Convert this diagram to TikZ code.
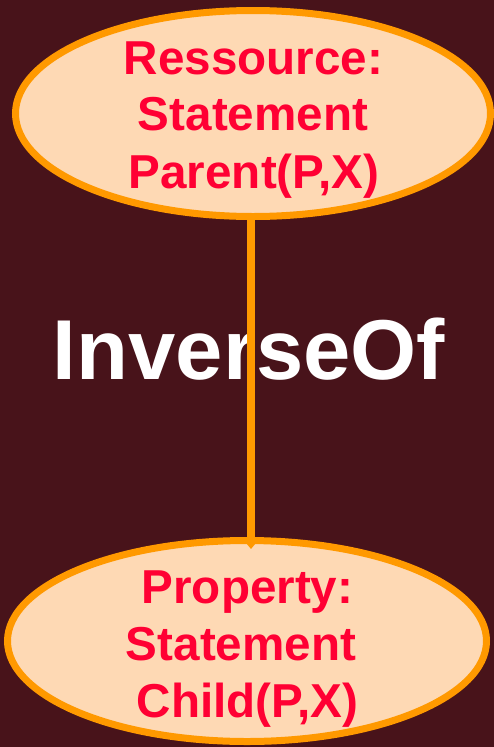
\documentclass[tikz,border=0pt]{standalone}
\usepackage{fontspec}
\setmainfont{Liberation Sans}
\usetikzlibrary{shapes.geometric,arrows.meta}
\definecolor{bgmaroon}{RGB}{72,19,26}
\definecolor{peach}{RGB}{254,217,180}
\definecolor{rimorange}{RGB}{255,153,0}
\definecolor{labelred}{RGB}{255,0,51}
\tikzset{
  oval/.style={ellipse, draw=rimorange, fill=peach, line width=7pt, inner sep=0pt},
  conn/.style={draw=rimorange, line width=8pt, -{Triangle[width=16pt,length=10pt]}},
  ovaltext/.style={anchor=base, inner sep=0pt, text=labelred,
    font=\bfseries\fontsize{47.6}{56}\selectfont},
  reltext/.style={anchor=base, inner sep=0pt, text=white,
    font=\bfseries\fontsize{85}{100}\selectfont}
}
\begin{document}
\begin{tikzpicture}[x=1pt,y=-1pt]
  % canvas
  \fill[bgmaroon] (0,0) rectangle (494,747);
  \useasboundingbox (0,0) rectangle (494,747);

  % the two classes
  \node[oval, minimum width=475pt, minimum height=206pt] (res) at (253,113.5) {};
  \node[oval, minimum width=479pt, minimum height=201pt] (prop) at (247,641) {};

  % relation name, under the connector
  \node[reltext] (inv) at (249,379) {InverseOf};

  % relation between them
  \draw[conn, shorten <=-4pt, shorten >=-12pt] ([xshift=-2pt]res.south) -- ([xshift=-2pt]res.south |- prop.north);

  % labels of the upper class
  \node[ovaltext] (r1) at (253.5,74) {Ressource:};
  \node[ovaltext] (r2) at (253,130) {Statement};
  \node[ovaltext] (r3) at (254,188) {Parent(P,X)};

  % labels of the lower class
  \node[ovaltext] (p1) at (247.5,603) {Property:};
  \node[ovaltext] (p2) at (241,660) {Statement};
  \node[ovaltext] (p3) at (247.5,717) {Child(P,X)};
\end{tikzpicture}
\end{document}
